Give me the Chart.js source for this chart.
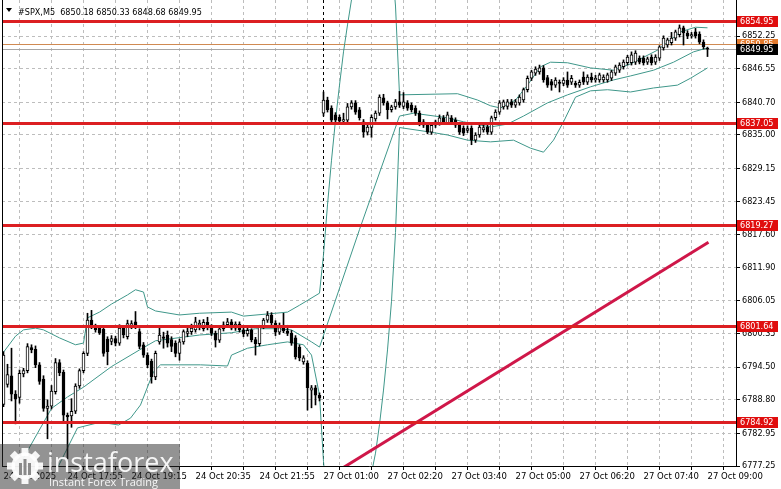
<!DOCTYPE html>
<html>
<head>
<meta charset="utf-8">
<script src="https://cdn.jsdelivr.net/npm/chart.js@4.4.1/dist/chart.umd.min.js"></script>
<style>
  html, body { margin: 0; padding: 0; background: #fff; }
  canvas { display: block; }
</style>
</head>
<body>
<canvas id="chart" width="781" height="489"></canvas>
<script>
const FONT = '"DejaVu Sans Condensed", "DejaVu Sans", sans-serif';
const XFONT = '"DejaVu Sans", sans-serif';

// bar index of each grid line / time label (M5 bars)
const gridIdx = [0, 8, 16, 24, 32, 40, 48, 56, 64, 72, 80, 88, 96, 104, 112, 120, 128, 136, 144, 152, 160, 168, 176];
const xTickIdx = [0, 16, 32, 48, 64, 80, 96, 112, 128, 144, 160, 176];
const xTickText = ['24 Oct 2025', '24 Oct 17:55', '24 Oct 19:15', '24 Oct 20:35', '24 Oct 21:55', '27 Oct 01:00',
  '27 Oct 02:20', '27 Oct 03:40', '27 Oct 05:00', '27 Oct 06:20', '27 Oct 07:40', '27 Oct 09:00'];
const yTicks = [6777.25, 6782.95, 6788.80, 6794.50, 6800.35, 6806.05, 6811.90, 6817.60, 6823.45, 6829.15,
  6835.00, 6840.70, 6846.55, 6852.25];

// support / resistance levels and current prices
const levels = [6854.95, 6837.05, 6819.27, 6801.64, 6784.92];
const bidPrice = 6849.95;
const askPrice = 6850.85;
const sessionBreak = 80;
const titleText = '#SPX,M5  6850.18 6850.33 6848.68 6849.95';

// candles
const open = [
  6788.0, 6791.5, 6793.0, 6789.8, 6789.2, 6793.3, 6793.9, 6797.9, 6797.6, 6794.9,
  6792.4, 6787.3, 6787.7, 6790.2, 6795.3, 6793.6, 6786.1, 6786.0, 6786.8, 6791.2,
  6793.9, 6796.9, 6802.7, 6801.6, 6801.3, 6801.1, 6799.4, 6799.0, 6799.5, 6798.7,
  6801.3, 6799.8, 6801.6, 6802.4, 6800.7, 6798.4, 6796.6, 6795.5, 6792.8, 6798.9,
  6799.8, 6800.1, 6799.3, 6798.7, 6796.9, 6798.9, 6800.4, 6800.7, 6801.0, 6801.8,
  6801.2, 6802.3, 6801.5, 6800.4, 6799.2, 6801.2, 6801.9, 6802.4, 6801.3, 6802.0,
  6801.0, 6800.3, 6800.9, 6799.3, 6798.6, 6801.6, 6802.7, 6803.6, 6802.2, 6800.6,
  6801.4, 6800.8, 6800.4, 6799.6, 6798.0, 6795.4, 6795.2, 6790.5, 6790.9, 6789.6,
  6838.8, 6841.1, 6839.7, 6838.5, 6838.1, 6837.4, 6837.6, 6839.9, 6840.6, 6839.4,
  6837.3, 6835.5, 6836.3, 6837.8, 6838.8, 6841.5, 6840.6, 6839.4, 6839.9, 6840.8,
  6840.0, 6840.6, 6840.2, 6839.7, 6838.8, 6837.3, 6836.7, 6835.5, 6836.7, 6837.1,
  6838.0, 6837.1, 6838.0, 6837.6, 6836.7, 6836.2, 6835.8, 6836.2, 6834.1, 6835.0,
  6835.9, 6836.4, 6835.5, 6838.0, 6839.0, 6839.9, 6840.0, 6840.8, 6840.2, 6840.6,
  6841.1, 6842.9, 6844.9, 6845.8, 6846.0, 6846.7, 6845.0, 6844.3, 6843.7, 6844.2,
  6844.0, 6844.6, 6844.2, 6844.0, 6843.7, 6845.1, 6844.2, 6845.1, 6844.6, 6844.6,
  6844.6, 6844.6, 6844.9, 6845.8, 6846.3, 6846.9, 6847.6, 6847.6, 6847.7, 6848.4,
  6848.4, 6847.7, 6848.6, 6847.7, 6848.4, 6850.2, 6850.7, 6851.1, 6851.9, 6852.5,
  6853.7, 6852.8, 6852.3, 6853.0, 6852.6, 6851.2, 6850.18
];
const high = [
  6797.2, 6795.0, 6797.8, 6790.4, 6794.0, 6794.3, 6798.6, 6798.4, 6798.2, 6795.3,
  6793.0, 6788.8, 6791.3, 6796.0, 6795.8, 6794.0, 6786.5, 6789.0, 6791.6, 6794.2,
  6797.2, 6803.9, 6804.4, 6802.0, 6801.6, 6801.5, 6799.8, 6800.0, 6799.9, 6801.9,
  6801.6, 6802.7, 6802.6, 6804.2, 6801.2, 6798.8, 6797.0, 6795.9, 6797.3, 6801.6,
  6800.6, 6800.8, 6799.8, 6799.1, 6799.4, 6801.0, 6801.3, 6802.0, 6803.2, 6802.7,
  6802.8, 6803.2, 6801.9, 6800.8, 6801.6, 6802.4, 6803.0, 6802.8, 6802.4, 6802.4,
  6801.4, 6801.3, 6801.2, 6799.7, 6801.8, 6803.0, 6804.2, 6804.0, 6802.6, 6802.2,
  6803.9, 6801.8, 6800.9, 6800.0, 6798.4, 6796.5, 6795.6, 6791.3, 6791.3, 6790.0,
  6842.5, 6841.6, 6840.1, 6838.9, 6838.5, 6838.8, 6840.5, 6841.0, 6841.0, 6839.8,
  6837.7, 6836.8, 6838.5, 6839.2, 6842.0, 6842.1, 6840.9, 6840.2, 6841.2, 6842.6,
  6842.4, 6841.0, 6840.6, 6840.1, 6839.2, 6837.7, 6837.0, 6837.0, 6837.6, 6838.5,
  6838.4, 6839.0, 6838.4, 6838.0, 6837.0, 6836.6, 6836.6, 6836.6, 6835.4, 6836.8,
  6836.7, 6836.8, 6838.3, 6839.4, 6841.0, 6841.1, 6841.2, 6841.2, 6841.2, 6842.0,
  6843.2, 6845.3, 6846.3, 6846.9, 6847.2, 6847.1, 6845.4, 6844.7, 6845.0, 6844.6,
  6845.0, 6846.0, 6845.4, 6844.4, 6844.6, 6846.0, 6845.5, 6845.8, 6845.4, 6845.8,
  6845.5, 6845.8, 6846.3, 6847.2, 6847.6, 6848.1, 6848.9, 6849.5, 6849.7, 6848.8,
  6848.8, 6848.6, 6849.0, 6849.0, 6850.6, 6852.3, 6851.9, 6852.9, 6853.3, 6854.2,
  6854.0, 6853.2, 6852.9, 6853.6, 6853.0, 6851.6, 6850.33
];
const low = [
  6787.6, 6791.0, 6788.6, 6784.6, 6788.2, 6792.8, 6793.5, 6797.0, 6794.4, 6791.5,
  6786.8, 6782.0, 6787.2, 6789.8, 6793.0, 6785.0, 6778.5, 6784.0, 6786.4, 6790.8,
  6793.5, 6796.5, 6801.2, 6800.6, 6800.2, 6796.4, 6794.9, 6798.4, 6798.2, 6798.3,
  6799.6, 6799.4, 6801.2, 6801.2, 6797.7, 6796.2, 6794.4, 6791.7, 6792.3, 6798.5,
  6797.8, 6798.0, 6797.2, 6796.3, 6795.7, 6798.5, 6799.8, 6800.2, 6800.6, 6801.0,
  6800.8, 6801.0, 6800.0, 6798.0, 6798.8, 6800.8, 6801.4, 6801.0, 6800.9, 6800.6,
  6799.8, 6799.9, 6798.9, 6796.6, 6798.2, 6801.2, 6802.3, 6801.8, 6800.0, 6800.2,
  6800.5, 6800.0, 6798.3, 6795.9, 6795.6, 6795.0, 6787.0, 6787.4, 6787.9, 6788.6,
  6838.3, 6839.0, 6837.2, 6837.1, 6836.9, 6837.0, 6837.1, 6839.5, 6838.6, 6837.6,
  6834.6, 6835.0, 6834.6, 6837.4, 6838.4, 6840.2, 6837.8, 6839.0, 6839.5, 6839.8,
  6839.6, 6839.3, 6839.0, 6838.4, 6836.6, 6836.3, 6835.2, 6835.1, 6836.3, 6836.7,
  6836.9, 6836.8, 6836.9, 6836.3, 6835.1, 6834.9, 6835.4, 6833.3, 6833.7, 6834.6,
  6835.5, 6835.1, 6835.1, 6837.6, 6838.6, 6839.5, 6839.5, 6839.8, 6839.8, 6840.2,
  6840.7, 6842.5, 6844.5, 6845.4, 6845.6, 6844.2, 6843.3, 6842.8, 6843.3, 6842.5,
  6843.6, 6843.3, 6843.8, 6843.3, 6843.3, 6843.8, 6843.8, 6844.2, 6844.2, 6844.2,
  6844.2, 6844.2, 6844.5, 6845.4, 6845.9, 6846.5, 6847.2, 6847.2, 6847.3, 6847.4,
  6847.2, 6847.3, 6847.2, 6847.3, 6848.0, 6849.8, 6850.3, 6850.7, 6851.5, 6852.1,
  6850.7, 6851.8, 6851.9, 6851.9, 6850.9, 6850.0, 6848.68
];
const close = [
  6796.6, 6793.2, 6789.8, 6789.0, 6793.4, 6793.9, 6798.1, 6797.5, 6794.9, 6792.0,
  6787.3, 6787.7, 6790.3, 6795.3, 6793.5, 6786.1, 6785.8, 6786.8, 6791.2, 6793.9,
  6796.9, 6802.7, 6801.6, 6801.0, 6800.5, 6796.9, 6797.2, 6799.5, 6798.7, 6801.3,
  6800.1, 6802.1, 6802.1, 6801.7, 6798.1, 6796.6, 6794.9, 6792.8, 6796.9, 6800.1,
  6799.5, 6798.7, 6798.1, 6796.9, 6798.9, 6800.7, 6800.7, 6801.3, 6802.4, 6802.2,
  6802.3, 6801.5, 6800.4, 6799.2, 6801.2, 6801.9, 6802.4, 6801.3, 6802.0, 6801.0,
  6800.3, 6800.9, 6799.3, 6798.6, 6801.6, 6802.7, 6803.6, 6802.2, 6800.6, 6801.4,
  6800.8, 6800.4, 6798.7, 6796.3, 6796.1, 6796.1, 6790.9, 6790.9, 6789.6, 6789.1,
  6841.1, 6839.4, 6837.6, 6837.6, 6837.4, 6837.7, 6839.9, 6840.6, 6839.0, 6838.0,
  6835.5, 6836.4, 6838.1, 6838.8, 6841.6, 6840.6, 6839.4, 6839.9, 6840.8, 6840.2,
  6840.8, 6839.7, 6839.4, 6838.8, 6837.3, 6836.7, 6835.5, 6836.7, 6837.3, 6838.0,
  6837.3, 6838.5, 6837.3, 6836.7, 6835.5, 6835.3, 6836.1, 6834.1, 6835.0, 6836.4,
  6836.3, 6835.5, 6838.0, 6839.0, 6840.6, 6840.8, 6840.8, 6840.2, 6840.8, 6841.6,
  6842.9, 6844.9, 6846.0, 6846.5, 6846.7, 6844.6, 6843.7, 6843.7, 6844.6, 6844.0,
  6844.6, 6843.7, 6844.9, 6843.7, 6844.2, 6844.2, 6845.1, 6844.6, 6844.9, 6845.5,
  6845.1, 6845.5, 6846.0, 6846.9, 6847.2, 6847.7, 6848.6, 6849.0, 6849.3, 6847.7,
  6847.6, 6848.3, 6847.6, 6848.6, 6850.4, 6851.9, 6851.6, 6851.9, 6853.0, 6853.7,
  6852.8, 6852.3, 6852.5, 6852.3, 6851.2, 6850.4, 6849.95
];

// Bollinger bands at the bends
const upIdx = [0, 3, 5, 8, 10, 14, 18, 20, 21, 24, 27, 31, 33, 35, 36, 38, 44, 49, 57, 60, 68, 71, 74, 79,
  80, 81, 82, 83, 84, 85, 86, 87, 88, 97, 98, 99, 113.5, 118.5, 121.75, 124.25, 128, 131, 134.25, 136.75,
  141, 146.75, 152.5, 156.75, 163.5, 169.25, 173, 176];
const upVal = [6797.1, 6799.9, 6801.0, 6801.3, 6801.0, 6799.6, 6798.4, 6798.7, 6803.1, 6804.1, 6805.5, 6807.1,
  6808.0, 6807.6, 6805.0, 6804.3, 6803.6, 6803.9, 6804.1, 6803.4, 6803.9, 6804.1, 6805.3, 6807.4,
  6814.1, 6822.8, 6830.6, 6837.6, 6843.7, 6849.5, 6854.2, 6858.6, 6862.0, 6866.0, 6857.5, 6842.0, 6842.2,
  6841.1, 6840.1, 6839.7, 6841.1, 6843.7, 6846.9, 6847.7, 6847.6, 6846.7, 6846.3, 6847.4, 6849.8, 6853.0,
  6853.8, 6853.7];
const midIdx = [0, 4, 12, 16, 20, 27, 34, 38, 49, 57, 63, 68, 72, 77, 79, 89, 99, 102.5, 111, 115, 121.75,
  126, 130, 136, 141, 146.75, 152.5, 156.75, 162.5, 167.5, 172.5, 176];
const midVal = [6773.1, 6777.4, 6787.3, 6789.3, 6791.0, 6794.6, 6797.5, 6799.1, 6800.1, 6800.5, 6801.2, 6801.2,
  6801.0, 6798.9, 6798.0, 6818.5, 6838.3, 6838.8, 6838.0, 6837.3, 6836.4, 6836.9, 6838.3, 6840.6, 6842.0,
  6843.4, 6844.6, 6845.3, 6846.3, 6847.7, 6849.5, 6850.2];
const lowIdx = [0, 10, 14, 18.5, 24.25, 28.75, 31.75, 34.25, 37.5, 39.25, 49.25, 56, 57, 61, 66, 71, 75, 77, 79,
  80, 81, 91, 92, 93, 94, 95, 96, 97, 98, 99, 106.75, 111, 116, 121.75, 127.5, 131.75, 135, 137.5, 140, 143,
  146.75, 151, 156.75, 162.5, 168.5, 171.75, 176];
const lowVal = [6765.0, 6772.0, 6777.6, 6783.9, 6784.9, 6784.4, 6785.6, 6787.9, 6793.7, 6794.9, 6794.9, 6794.7,
  6796.6, 6797.8, 6798.4, 6798.9, 6798.4, 6796.6, 6789.6, 6778.0, 6770.0, 6768.0, 6776.0, 6779.5, 6784.5,
  6790.5, 6797.5, 6806.0, 6818.0, 6836.3, 6835.5, 6835.0, 6834.1, 6833.8, 6834.1, 6832.7, 6832.0, 6834.1,
  6837.3, 6841.6, 6842.7, 6842.9, 6842.5, 6843.2, 6843.7, 6844.9, 6846.7];

// trend line
const trendIdx = [82, 176.25];
const trendVal = [6775.7, 6816.3];

const BAND = '#3f978a';
const RED = '#dc1f22';

const pts = (idx, val) => idx.map((x, k) => ({ x: x, y: val[k] }));
const bodyData = open.map((o, i) => ({ x: i, y: [o, close[i]] }));
const wickData = open.map((o, i) => ({ x: i, y: [low[i], high[i]] }));
const bodyFill = open.map((o, i) => (close[i] >= o ? '#ffffff' : '#000000'));

function hline(ctx, x1, x2, y, color, w) {
  ctx.strokeStyle = color;
  ctx.lineWidth = w;
  ctx.beginPath();
  ctx.moveTo(x1, y);
  ctx.lineTo(x2, y);
  ctx.stroke();
}

function priceTag(ctx, yScale, value, bg) {
  const py = Math.round(yScale.getPixelForValue(value));
  ctx.fillStyle = bg;
  ctx.fillRect(737, py - 5, 41, 11);
  ctx.fillStyle = '#ffffff';
  ctx.font = '9px ' + FONT;
  ctx.textAlign = 'left';
  ctx.textBaseline = 'middle';
  ctx.fillText(value.toFixed(2), 740, py + 0.5);
}

const overlay = {
  id: 'overlay',
  beforeDatasetsDraw(chart) {
    const { ctx, chartArea: a, scales: { x, y } } = chart;
    ctx.save();
    hline(ctx, a.left, a.right, Math.round(y.getPixelForValue(askPrice)) + 0.5, '#d08a52', 1);
    hline(ctx, a.left, a.right, Math.round(y.getPixelForValue(bidPrice)) + 0.5, '#a6a6a6', 1);
    const sx = Math.floor(x.getPixelForValue(sessionBreak)) + 0.5;
    ctx.setLineDash([3, 3]);
    ctx.strokeStyle = '#000';
    ctx.lineWidth = 1;
    ctx.beginPath();
    ctx.moveTo(sx, a.top);
    ctx.lineTo(sx, a.bottom);
    ctx.stroke();
    ctx.restore();
  },
  afterDatasetsDraw(chart) {
    const { ctx, chartArea: a, scales: { y } } = chart;
    ctx.save();
    ctx.fillStyle = RED;
    levels.forEach(v => {
      const py = Math.round(y.getPixelForValue(v));
      ctx.fillRect(a.left, py - 1, a.right - a.left, 3);
    });
    // left frame
    ctx.fillStyle = '#000';
    ctx.fillRect(a.left, a.top, 1, a.bottom - a.top);
    // title
    ctx.beginPath();
    ctx.moveTo(6, 8);
    ctx.lineTo(12, 8);
    ctx.lineTo(9, 12);
    ctx.closePath();
    ctx.fill();
    ctx.font = '9px ' + FONT;
    ctx.textAlign = 'left';
    ctx.textBaseline = 'alphabetic';
    ctx.fillText(titleText, 18, 15);
    ctx.restore();
  },
  afterDraw(chart) {
    const { ctx, scales: { y } } = chart;
    ctx.save();
    levels.forEach(v => priceTag(ctx, y, v, '#e00d0d'));
    priceTag(ctx, y, askPrice, '#e27a2e');
    priceTag(ctx, y, bidPrice, '#000000');

    // watermark
    ctx.fillStyle = 'rgba(40,40,40,0.5)';
    ctx.fillRect(0, 444, 180, 45);
    ctx.fillStyle = 'rgba(255,255,255,0.92)';
    const cx = 25, cy = 466;
    for (let k = 0; k < 8; k++) {
      ctx.save();
      ctx.translate(cx, cy);
      ctx.rotate(k * Math.PI / 4);
      ctx.fillRect(-3.5, -18, 7, 8);
      ctx.restore();
    }
    ctx.beginPath();
    ctx.arc(cx, cy, 13.5, 0, Math.PI * 2);
    ctx.fill();
    ctx.fillStyle = '#8a8a8a';
    ctx.fillRect(cx - 6, cy - 3, 3, 12);
    ctx.fillRect(cx - 1.5, cy - 7, 3, 16);
    ctx.fillRect(cx + 3, cy - 3, 3, 12);
    ctx.fillStyle = 'rgba(255,255,255,0.92)';
    ctx.font = '27px "Open Sans", sans-serif';
    ctx.textAlign = 'left';
    ctx.textBaseline = 'alphabetic';
    ctx.fillText('instaforex', 47, 472);
    ctx.font = '11px "Open Sans", sans-serif';
    ctx.fillText('Instant Forex Trading', 49, 486);
    ctx.restore();
  }
};

const gridOpts = {
  color: '#bdbdbd',
  lineWidth: 1,
  drawTicks: true,
  tickLength: 4,
  tickColor: '#000',
  tickBorderDash: []
};
const borderOpts = { display: true, color: '#000', width: 1, dash: [3, 3] };

const ctx = document.getElementById('chart').getContext('2d');

const chart = new Chart(ctx, {
  type: 'bar',
  data: {
    datasets: [
      {
        type: 'line', data: pts(trendIdx, trendVal), borderColor: '#cf1749', borderWidth: 3,
        pointRadius: 0, tension: 0, clip: 0, order: 0
      },
      {
        data: bodyData, backgroundColor: bodyFill, borderColor: '#000', borderWidth: 1,
        borderSkipped: false, barThickness: 3, grouped: false, order: 1
      },
      {
        data: wickData, backgroundColor: '#000', borderWidth: 0,
        barThickness: 1, grouped: false, order: 2
      },
      { type: 'line', data: pts(upIdx, upVal), borderColor: BAND, borderWidth: 1, pointRadius: 0, tension: 0, clip: 0, order: 3 },
      { type: 'line', data: pts(midIdx, midVal), borderColor: BAND, borderWidth: 1, pointRadius: 0, tension: 0, clip: 0, order: 3 },
      { type: 'line', data: pts(lowIdx, lowVal), borderColor: BAND, borderWidth: 1, pointRadius: 0, tension: 0, clip: 0, order: 3 }
    ]
  },
  options: {
    responsive: false,
    animation: false,
    devicePixelRatio: 1,
    layout: { padding: { left: 2, top: 0, right: 0, bottom: 0 } },
    plugins: { legend: { display: false }, tooltip: { enabled: false } },
    scales: {
      x: {
        type: 'linear',
        min: -0.375,
        max: 183.125,
        offset: false,
        afterBuildTicks: s => { s.ticks = gridIdx.map(v => ({ value: v })); },
        afterFit: s => { s.height = 23; s.paddingLeft = 0; s.paddingRight = 0; },
        grid: gridOpts,
        border: borderOpts,
        ticks: {
          autoSkip: false, maxRotation: 0, minRotation: 0, align: 'start', padding: 2,
          color: '#000', font: { family: XFONT, size: 8.5 },
          callback: v => { const k = xTickIdx.indexOf(v); return k >= 0 ? xTickText[k] : ''; }
        }
      },
      y: {
        type: 'linear',
        position: 'right',
        min: 6777.25,
        max: 6858.55,
        afterBuildTicks: s => { s.ticks = yTicks.map(v => ({ value: v })); },
        afterFit: s => { s.width = 45; s.paddingTop = 0; s.paddingBottom = 0; },
        grid: gridOpts,
        border: borderOpts,
        ticks: {
          padding: 2, color: '#000', font: { family: FONT, size: 9 },
          callback: v => Number(v).toFixed(2)
        }
      }
    }
  },
  plugins: [overlay]
});
</script>
</body>
</html>
